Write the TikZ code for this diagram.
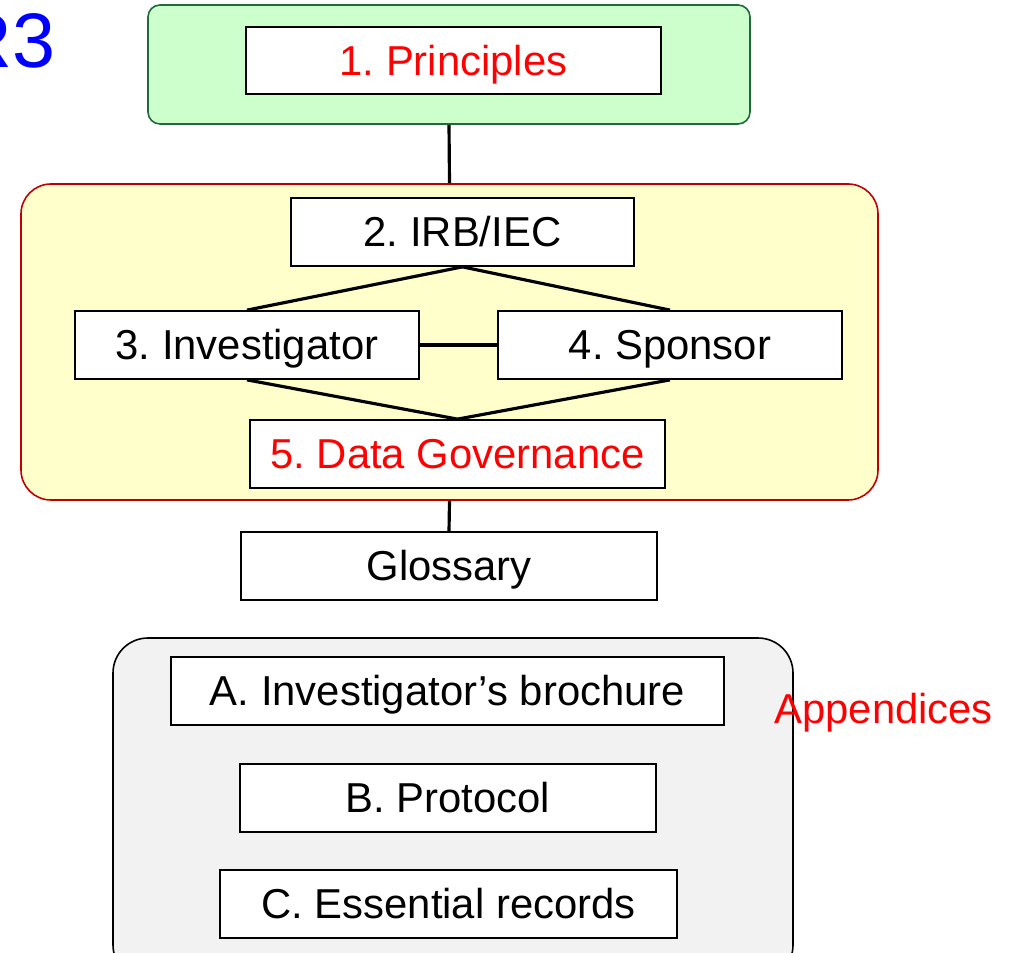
\documentclass[tikz,border=0pt]{standalone}
\usepackage{fontspec}
\setmainfont{Liberation Sans}
\frenchspacing
\definecolor{partgreen}{HTML}{CCFFCC}
\definecolor{partgreenline}{HTML}{1E6B3A}
\definecolor{partyellow}{HTML}{FFFFCC}
\definecolor{partred}{HTML}{C00000}
\definecolor{partgray}{HTML}{F2F2F2}
\tikzset{
	secbox/.style={draw=black, line width=1pt, fill=white, minimum height=13.6mm, inner sep=0pt, text height=21pt, text depth=4pt, font=\fontsize{23.8}{28}\selectfont},
	groupbox/.style={line width=0.9pt, inner sep=0pt},
	link/.style={line width=1.8pt},
}

\begin{document}
\begin{tikzpicture}[x=0.2mm, y=-0.2mm]
			%%%%% START %%%%%
			\useasboundingbox (0, 0) rectangle (1013, 953);
			\clip (0, 0) rectangle (1013, 953);
			
			\node[anchor=base east, inner sep=0pt, text=blue, font=\fontsize{44}{50}\selectfont] (title) at (56, 68) {R3};
			
			% groups
			\node[groupbox, draw=partgreenline, fill=partgreen, rounded corners=2.4mm, minimum width=120.4mm, minimum height=23.8mm] (principlesgroup) at (449, 64.5) {};
			\node[groupbox, draw=partred, fill=partyellow, rounded corners=6mm, minimum width=171.4mm, minimum height=63.2mm] (partsgroup) at (449.5, 342) {};
			\node[groupbox, draw=black, fill=partgray, rounded corners=7mm, minimum width=136mm, minimum height=68.4mm] (appgroup) at (453, 809) {};
			
			% sections
			\node[secbox, minimum width=83mm, minimum height=13.4mm, text=red] (principles) at (453.5, 60.5) {1. Principles};
			\node[secbox, minimum width=68.6mm] (irb) at (462.5, 232) {2. IRB/IEC};
			\node[secbox, minimum width=68.8mm] (inv) at (247, 345) {3. Investigator};
			\node[secbox, minimum width=68.8mm] (spons) at (670, 345) {4. Sponsor};
			\node[secbox, minimum width=83mm, text=red] (datagov) at (457.5, 454) {5. Data Governance};
			\node[secbox, minimum width=83.2mm] (gloss) at (449, 566) {Glossary};
			
			% appendices
			\node[secbox, minimum width=110.6mm] (appa) at (447.5, 691) {A. Investigator’s brochure};
			\node[secbox, minimum width=83.2mm] (appb) at (448, 798) {B. Protocol};
			\node[secbox, minimum width=91.4mm] (appc) at (448.5, 904) {C. Essential records};
			\node[anchor=base west, inner sep=0pt, text=red, font=\fontsize{23.8}{28}\selectfont] (applabel) at (774, 724) {Appendices};
			
			% links
			\draw[link] (principlesgroup.south) -- (partsgroup.north);
			\draw[link] (irb.south) -- (inv.north);
			\draw[link] (irb.south) -- (spons.north);
			\draw[link] (inv.east) -- (spons.west);
			\draw[link] (inv.south) -- (datagov.north);
			\draw[link] (spons.south) -- (datagov.north);
			\draw[link] (partsgroup.south) -- (gloss.north);
			
			%%%%% END %%%%%
\end{tikzpicture}
\end{document}
